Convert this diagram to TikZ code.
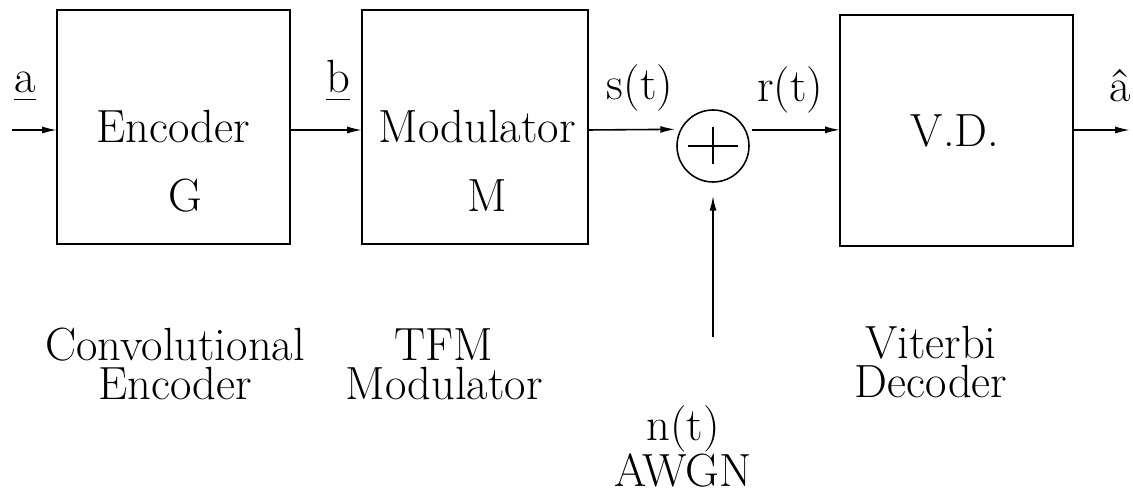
\documentclass[tikz,border=0pt]{standalone}
\usepackage{amsmath}
\usetikzlibrary{arrows.meta}

\tikzset{
  blockbox/.style={draw, line width=1.1pt, inner sep=0pt, outer sep=0pt},
  txt/.style={font=\fontsize{26.5}{22.5}\selectfont, inner sep=0pt, align=center},
  sig/.style={line width=0.9pt, -{Latex[length=8.5pt,width=4pt]}}
}

\begin{document}
\begin{tikzpicture}[x=0.02cm, y=-0.02cm]
  \useasboundingbox (0,0) rectangle (1133,496);

  % Define the blocks
  \node[blockbox, minimum width=4.66cm, minimum height=4.68cm] (enc) at (173.5,127) {};
  \node[blockbox, minimum width=4.52cm, minimum height=4.68cm] (mod) at (475,127) {};
  \node[blockbox, minimum width=4.66cm, minimum height=4.62cm] (vd) at (956.5,130.5) {};
  \node[draw, circle, line width=0.9pt, minimum size=1.44cm, inner sep=0pt] (sum) at (713,146) {};

  % Plus sign of the adder
  \draw[line width=0.8pt] ([xshift=-0.5cm]sum.center) -- ([xshift=0.5cm]sum.center);
  \draw[line width=0.8pt] ([yshift=-0.37cm]sum.center) -- ([yshift=0.37cm]sum.center);

  % Texts inside the blocks
  \node[txt, anchor=base] (enctxt) at (173,143) {Encoder};
  \node[txt, anchor=base] (gtxt) at (185,212) {G};
  \node[txt, anchor=base] (modtxt) at (477,143) {Modulator};
  \node[txt, anchor=base] (mtxt) at (487,212) {M};
  \node[txt, anchor=base] (vdtxt) at (955,147) {V.D.};

  % Free ends of the signal lines
  \coordinate (in) at (12,130);
  \coordinate (out) at (1130,130);
  \coordinate (noise) at (713,337);

  % Draw the signal lines
  \draw[sig] (in) -- (in -| enc.west);
  \draw[sig] (enc.east |- in) -- (mod.west |- in);
  \draw[sig, shorten >=0.1cm] (mod.east |- in) -- (sum.153.6);
  \draw[sig, shorten <=0.12cm] (sum.26.4) -- (vd.west |- sum.26.4);
  \draw[sig] (vd.east |- out) -- (out);
  \draw[sig, shorten >=0.26cm] (noise) -- (sum.south);

  % Signal labels
  \node[txt, anchor=base] (la) at (25,93) {\underline{a}};
  \node[txt, anchor=base] (lb) at (338,93) {\underline{b}};
  \node[txt, anchor=base] (ls) at (640,100) {s(t)};
  \node[txt, anchor=base] (lr) at (790,102) {r(t)};
  \node[txt, anchor=base] (lahat) at (1120,102) {\^a};

  % Block captions
  \node[txt, anchor=base] (capenc) at (175,400) {Convolutional\\Encoder};
  \node[txt, anchor=base] (capmod) at (444,400) {TFM\\Modulator};
  \node[txt, anchor=base] (capvd) at (931,398) {Viterbi\\Decoder};
  \node[txt, anchor=base] (capnoise) at (683,487) {n(t)\\AWGN};
\end{tikzpicture}
\end{document}
